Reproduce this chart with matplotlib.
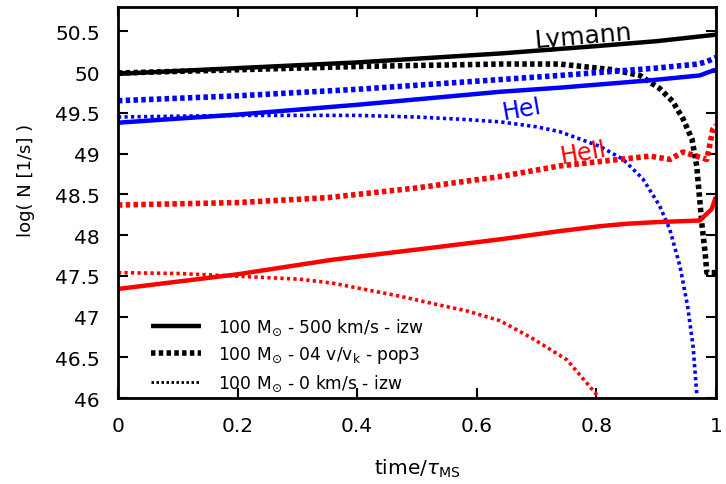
import matplotlib
matplotlib.use("Agg")
import matplotlib.pyplot as plt
import numpy as np

# --- data ---
# Lyman continuum (black)
t_ly_500 = [0.0, 0.2, 0.4, 0.64, 0.8, 0.9, 1.0]
ly_500 = [49.98, 50.05, 50.12, 50.23, 50.32, 50.38, 50.46]

t_ly_pop3 = [0.0, 0.2, 0.4, 0.64, 0.739, 0.828, 0.873, 0.906, 0.928, 0.945, 0.960,
             0.968, 0.973, 0.977, 0.982, 0.985, 1.0]
ly_pop3 = [49.99, 50.03, 50.07, 50.10, 50.10, 50.03, 49.96, 49.80, 49.64, 49.43, 49.18,
           48.85, 48.44, 48.11, 47.79, 47.54, 47.54]

# HeI (blue)
t_hei_500 = [0.0, 0.2, 0.4, 0.64, 0.739, 0.89, 0.973, 0.995, 1.0]
hei_500 = [49.38, 49.48, 49.6, 49.76, 49.81, 49.90, 49.96, 50.02, 50.03]

t_hei_pop3 = [0.0, 0.2, 0.4, 0.64, 0.739, 0.9, 0.97, 0.985, 1.0]
hei_pop3 = [49.65, 49.71, 49.79, 49.91, 49.96, 50.05, 50.1, 50.13, 50.18]

t_hei_0 = [0.0, 0.2, 0.4, 0.5, 0.58, 0.64, 0.7, 0.739, 0.806, 0.845, 0.878, 0.906,
           0.923, 0.940, 0.953, 0.962, 0.968]
hei_0 = [49.45, 49.47, 49.47, 49.45, 49.42, 49.39, 49.33, 49.27, 49.09, 48.93, 48.69,
         48.36, 48.07, 47.62, 47.12, 46.63, 46.06]

# HeII (red)
t_heii_500 = [0.0, 0.1, 0.2, 0.36, 0.53, 0.64, 0.739, 0.806, 0.851, 0.9, 0.973, 0.993, 1.0]
heii_500 = [47.34, 47.43, 47.52, 47.7, 47.85, 47.95, 48.05, 48.11, 48.14, 48.16, 48.18,
            48.32, 48.47]

t_heii_pop3 = [0.0, 0.2, 0.35, 0.4, 0.5, 0.64, 0.739, 0.839, 0.89, 0.923, 0.945,
               0.985, 0.995, 1.0]
heii_pop3 = [48.37, 48.4, 48.46, 48.5, 48.58, 48.72, 48.85, 48.93, 48.97, 48.93, 49.02,
             48.93, 49.30, 49.35]

t_heii_0 = [0.0, 0.1, 0.19, 0.304, 0.36, 0.472, 0.527, 0.584, 0.639, 0.694, 0.751, 0.801]
heii_0 = [47.54, 47.53, 47.5, 47.46, 47.41, 47.25, 47.16, 47.07, 46.95, 46.73, 46.47, 46.04]

legend_labels = [r"100 M$_{\odot}$ - 500 km/s - izw",
                 r"100 M$_{\odot}$ - 04 v/v$_{\rm k}$ - pop3",
                 r"100 M$_{\odot}$ - 0 km/s - izw"]

fig = plt.figure(figsize=(7.26, 4.85), dpi=100)
ax = fig.add_axes([0.1625, 0.177, 0.8235, 0.8065])

solid = dict(ls="-", lw=3.2, solid_capstyle="butt", solid_joinstyle="round")
thick = dict(ls=(0, (0.8, 0.6)), lw=4.0)
thin = dict(ls=(0, (0.9, 0.9)), lw=2.6)

ax.plot(t_ly_500, ly_500, color="black", **solid)
ax.plot(t_ly_pop3, ly_pop3, color="black", **thick)
ax.plot(t_hei_500, hei_500, color="#0000ff", **solid)
ax.plot(t_hei_pop3, hei_pop3, color="#0000ff", **thick)
ax.plot(t_hei_0, hei_0, color="#0000ff", **thin)
ax.plot(t_heii_500, heii_500, color="#ff0000", **solid)
ax.plot(t_heii_pop3, heii_pop3, color="#ff0000", **thick)
ax.plot(t_heii_0, heii_0, color="#ff0000", **thin)

# legend handles (black)
h1, = ax.plot([], [], color="black", **solid)
h2, = ax.plot([], [], color="black", **thick)
h3, = ax.plot([], [], color="black", ls=(0, (0.9, 0.9)), lw=2.0)
ax.legend([h1, h2, h3], legend_labels, loc="lower left", bbox_to_anchor=(0.03, -0.025),
          frameon=False, fontsize=12.3, handlelength=2.9, labelspacing=0.42,
          handletextpad=1.0)

ax.text(0.778, 50.45, "Lymann", fontsize=18, rotation=5, ha="center", va="center")
ax.text(0.675, 49.55, "HeI", fontsize=17, color="#0000ff", rotation=10,
        ha="center", va="center")
ax.text(0.778, 49.02, "HeII", fontsize=17, color="#ff0000", rotation=10,
        ha="center", va="center")

ax.set_xlim(0, 1)
ax.set_ylim(46, 50.8)
ax.set_xticks([0, 0.2, 0.4, 0.6, 0.8, 1.0])
ax.set_xticklabels(["0", "0.2", "0.4", "0.6", "0.8", "1"])
ax.set_yticks(np.arange(46, 50.51, 0.5))
ax.set_yticklabels(["46", "46.5", "47", "47.5", "48", "48.5", "49", "49.5", "50", "50.5"])
ax.tick_params(direction="in", length=7, width=1.5, labelsize=14.5, top=True, right=True,
               pad=13)
for s in ax.spines.values():
    s.set_linewidth(2)

ax.set_xlabel(r"time/$\tau_{\rm MS}$", fontsize=14.5)
ax.set_ylabel("log( N [1/s] )", fontsize=13)
ax.xaxis.set_label_coords(0.5, -0.15)
ax.yaxis.set_label_coords(-0.138, 0.56)

fig.savefig("out.png", dpi=100)
